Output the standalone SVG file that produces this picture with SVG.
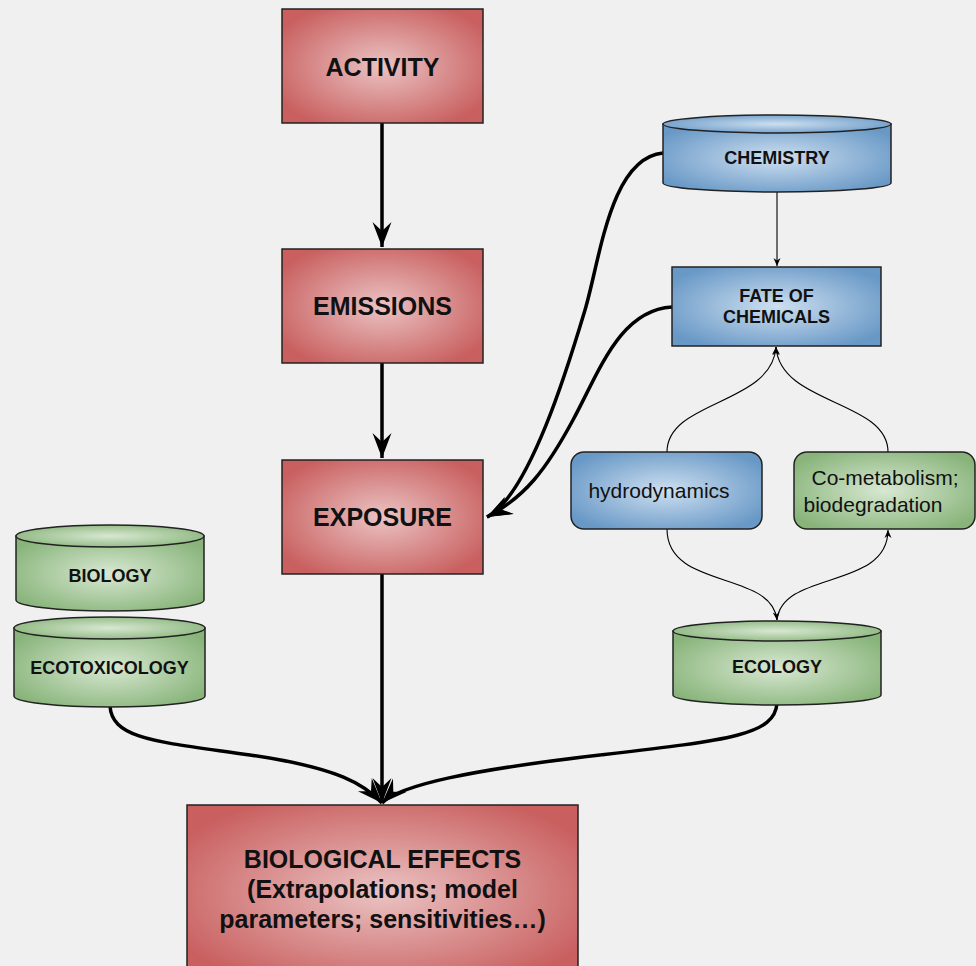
<svg xmlns="http://www.w3.org/2000/svg" width="976" height="966" viewBox="0 0 976 966">
<defs>
<radialGradient id="gRed" cx="50%" cy="50%" r="60%"><stop offset="0" stop-color="#ebc3c3"/><stop offset="1" stop-color="#c95f5f"/></radialGradient>
<radialGradient id="gBlue" cx="50%" cy="50%" r="60%"><stop offset="0" stop-color="#cddff0"/><stop offset="1" stop-color="#6898c6"/></radialGradient>
<radialGradient id="gGreen" cx="50%" cy="50%" r="60%"><stop offset="0" stop-color="#d8e8d2"/><stop offset="1" stop-color="#88b47a"/></radialGradient>
<marker id="big" markerUnits="userSpaceOnUse" viewBox="-26 -11 28 22" refX="0" refY="0" markerWidth="28" markerHeight="22" orient="auto"><path d="M0,0 L-25,-9.5 L-16,0 L-25,9.5 Z" fill="#000"/></marker>
<marker id="small" markerUnits="userSpaceOnUse" viewBox="-9 -5 10 10" refX="0" refY="0" markerWidth="10" markerHeight="10" orient="auto"><path d="M0,0 L-8,-3.5 L-5.5,0 L-8,3.5 Z" fill="#000"/></marker>
<style>
.box{stroke:#222;stroke-width:1.5}
.red{fill:url(#gRed)}
.blue{fill:url(#gBlue)}
.green{fill:url(#gGreen)}
.thick{fill:none;stroke:#000;stroke-width:3.5;marker-end:url(#big)}
.thin{fill:none;stroke:#000;stroke-width:1.1}
.thinA{fill:none;stroke:#000;stroke-width:1.1;marker-end:url(#small)}
text{font-family:"Liberation Sans",Arial,sans-serif;fill:#111;text-anchor:middle}
.lb{font-weight:bold;font-size:25px}
.mb{font-weight:bold;font-size:18px}
.rg{font-size:21px}
</style>
</defs>
<rect width="976" height="966" fill="#f0f0f0"/>
<g id="connectors">
<path class="thick" d="M382,123 L382,247"/>
<path class="thick" d="M382,363 L382,458"/>
<path class="thick" d="M663,153 C610,158 600,260 585,310 S530,495 487,517"/>
<path class="thick" d="M672,307 C620,310 600,370 573,420 S525,497 487,517"/>
<path class="thick" d="M382,574 L382,803"/>
<path class="thick" d="M110,706 C112,740 160,742 250,755 S365,785 382,803"/>
<path class="thick" d="M777,703 C775,735 730,740 600,755 S400,785 382,803"/>
<path class="thinA" d="M777,192 L777,266"/>
<path class="thinA" d="M667,452 C667,400 772,405 776,347"/>
<path class="thinA" d="M888,452 C888,400 780,405 776,347"/>
<path class="thinA" d="M667,529 C667,590 772,570 777,620"/>
<path class="thinA" d="M777,620 C782,570 888,590 888,530"/>
</g>
<g id="activity"><rect class="box red" x="282" y="9" width="201" height="114"/><text class="lb" x="382.5" y="76">ACTIVITY</text></g>
<g id="emissions"><rect class="box red" x="282" y="249" width="201" height="114"/><text class="lb" x="382.5" y="315">EMISSIONS</text></g>
<g id="exposure"><rect class="box red" x="282" y="460" width="201" height="114"/><text class="lb" x="382.5" y="526">EXPOSURE</text></g>
<g id="effects"><rect class="box red" x="187" y="805" width="391" height="175"/><text class="lb" x="382.5" y="868">BIOLOGICAL EFFECTS</text><text class="lb" x="382.5" y="898">(Extrapolations; model</text><text class="lb" x="382.5" y="928">parameters; sensitivities…)</text></g>
<g id="chemistry"><path class="box blue" d="M663,124 L663,183 A114,9 0 0 0 891,183 L891,124 Z"/><ellipse class="box blue" cx="777" cy="124" rx="114" ry="9"/><text class="mb" x="777" y="164">CHEMISTRY</text></g>
<g id="fate"><rect class="box blue" x="672" y="267" width="209" height="79"/><text class="mb" x="776.5" y="302">FATE OF</text><text class="mb" x="776.5" y="323">CHEMICALS</text></g>
<g id="hydrodynamics"><rect class="box blue" x="571" y="452" width="191" height="77" rx="13"/><text class="rg" x="659" y="498">hydrodynamics</text></g>
<g id="cometabolism"><rect class="box green" x="794" y="452" width="181" height="77" rx="13"/><text class="rg" x="885" y="485">Co-metabolism;</text><text class="rg" x="873" y="512">biodegradation</text></g>
<g id="ecology"><path class="box green" d="M673,631 L673,695 A104,10 0 0 0 881,695 L881,631 Z"/><ellipse class="box green" cx="777" cy="631" rx="104" ry="10"/><text class="mb" x="777" y="673">ECOLOGY</text></g>
<g id="biology"><path class="box green" d="M16,536 L16,600 A94,11 0 0 0 204,600 L204,536 Z"/><ellipse class="box green" cx="110" cy="536" rx="94" ry="11"/><text class="mb" x="110" y="582">BIOLOGY</text></g>
<g id="ecotoxicology"><path class="box green" d="M14,628 L14,696 A95.5,11 0 0 0 205,696 L205,628 Z"/><ellipse class="box green" cx="109.5" cy="628" rx="95.5" ry="11"/><text class="mb" x="109.5" y="674">ECOTOXICOLOGY</text></g>
</svg>
